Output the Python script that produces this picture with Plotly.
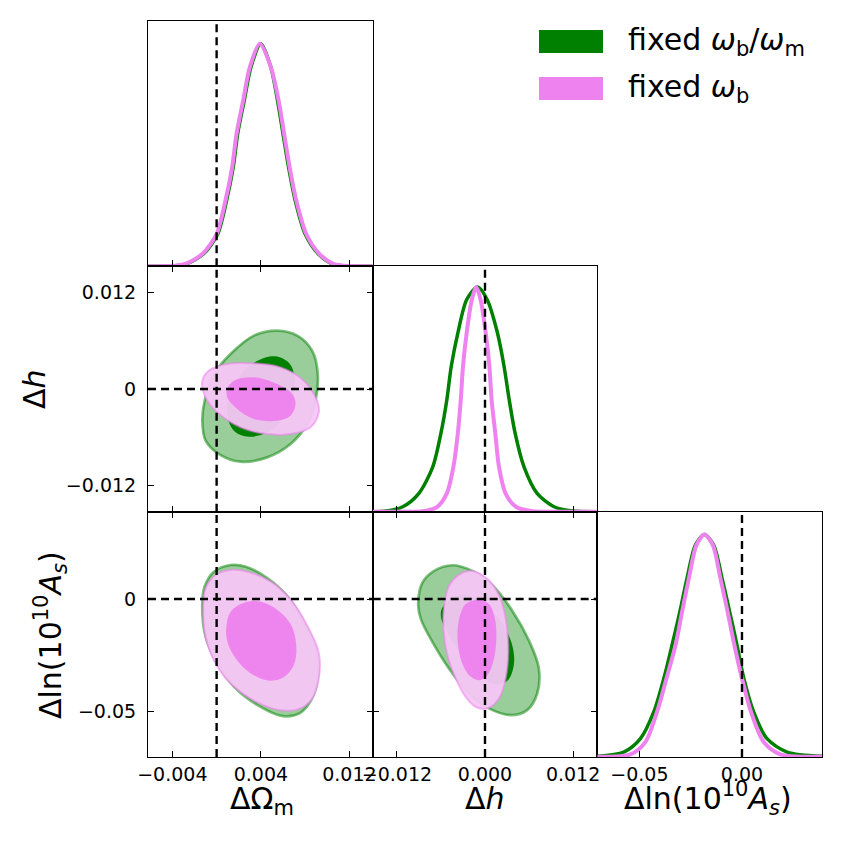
import plotly.graph_objects as go
from plotly.subplots import make_subplots

# colours of the two runs
GREEN = "green"
VIOLET = "violet"
GREEN_LIGHT = "rgba(128,192,128,0.8)"
VIOLET_LIGHT = "rgba(246,198,246,0.95)"
FONT = "DejaVu Sans"

series_labels = ["fixed <i>ω</i><sub>b</sub>/<i>ω</i><sub>m</sub>", "fixed <i>ω</i><sub>b</sub>"]

# fiducial values (dashed lines)
om_true = 0.0
h_true = 0.0
as_true = 0.0

# axis ranges and ticks
om_range = [-0.0062, 0.0141]
h_range = [-0.0153, 0.0153]
as_range = [-0.0705, 0.039]
pdf_range = [0, 1.1]
om_ticks = [-0.004, 0.004, 0.012]
om_ticktext = ["−0.004", "0.004", "0.012"]
h_ticks = [-0.012, 0.0, 0.012]
h_ticktext_x = ["−0.012", "0.000", "0.012"]
h_ticktext_y = ["−0.012", "0", "0.012"]
as_ticks = [-0.05, 0.0]
as_ticktext_x = ["−0.05", "0.00"]
as_ticktext_y = ["−0.05", "0"]

# ---- 1D marginals ----
om_green_x = [-0.0062, -0.0044, -0.0028, -0.0012, 0.0001, 0.0009, 0.0015, 0.0019, 0.0025, 0.0031, 0.0040,
              0.0049, 0.0055, 0.0060, 0.0065, 0.0071, 0.0080, 0.0092, 0.0105, 0.0121, 0.0141]
om_green_y = [0.0, 0.001, 0.010, 0.055, 0.145, 0.295, 0.444, 0.594, 0.744, 0.893, 0.998,
              0.893, 0.744, 0.594, 0.444, 0.295, 0.145, 0.055, 0.010, 0.001, 0.0]
om_pink_x = [-0.0062, -0.0045, -0.0029, -0.0013, 0.0000, 0.0008, 0.0014, 0.0018, 0.0024, 0.0030, 0.0039,
             0.0049, 0.0056, 0.0061, 0.0066, 0.0072, 0.0081, 0.0093, 0.0106, 0.0122, 0.0141]
om_pink_y = [0.0, 0.001, 0.010, 0.055, 0.145, 0.295, 0.444, 0.594, 0.744, 0.893, 0.998,
             0.893, 0.744, 0.594, 0.444, 0.295, 0.145, 0.055, 0.010, 0.001, 0.0]

h_green_x = [-0.0153, -0.0135, -0.0112, -0.0090, -0.0071, -0.0060, -0.0052, -0.0046, -0.0037, -0.0025, -0.0010,
             0.0003, 0.0017, 0.0026, 0.0033, 0.0041, 0.0053, 0.0071, 0.0094, 0.0120, 0.0153]
h_green_y = [0.0, 0.003, 0.022, 0.082, 0.202, 0.352, 0.501, 0.651, 0.801, 0.950, 1.007,
             0.950, 0.801, 0.651, 0.501, 0.352, 0.202, 0.082, 0.022, 0.003, 0.0]
h_pink_x = [-0.0153, -0.0110, -0.0085, -0.0065, -0.0052, -0.0043, -0.0037, -0.0033, -0.0030, -0.0025, -0.0018, -0.0012,
            -0.0006, 0.0001, 0.0006, 0.0009, 0.0014, 0.0019, 0.0028, 0.0042, 0.0065, 0.0090, 0.0153]
h_pink_y = [0.0, 0.0, 0.002, 0.022, 0.082, 0.202, 0.352, 0.501, 0.651, 0.801, 0.950, 1.007,
            0.950, 0.801, 0.651, 0.501, 0.352, 0.202, 0.082, 0.022, 0.002, 0.0, 0.0]

as_green_x = [-0.0705, -0.0576, -0.0495, -0.0430, -0.0381, -0.0341, -0.0303, -0.0268, -0.0227, -0.0183,
              -0.0138, -0.0097, -0.0060, -0.0024, 0.0009, 0.0057, 0.0122, 0.0220, 0.039]
as_green_y = [0.003, 0.022, 0.082, 0.202, 0.352, 0.501, 0.651, 0.801, 0.950, 0.998,
              0.950, 0.801, 0.651, 0.501, 0.352, 0.202, 0.082, 0.022, 0.003]
as_pink_x = [-0.0705, -0.0544, -0.0471, -0.0414, -0.0368, -0.0324, -0.0292, -0.0259, -0.0222, -0.0183,
             -0.0142, -0.0105, -0.0070, -0.0037, 0.0000, 0.0044, 0.0106, 0.0187, 0.039]
as_pink_y = [0.0015, 0.012, 0.067, 0.202, 0.352, 0.501, 0.651, 0.801, 0.950, 0.998,
             0.950, 0.801, 0.651, 0.501, 0.352, 0.202, 0.067, 0.012, 0.0015]

# ---- 2D contours: Omega_m vs h ----
omh_green_out_x = [-0.00129, -0.00108, -0.00024, 0.00126, 0.00337, 0.00547, 0.00728, 0.00863,
                   0.00914, 0.00893, 0.00818, 0.00668, 0.00457, 0.00217, 0.00021, -0.00099]
omh_green_out_y = [-0.00395, -0.00146, 0.00187, 0.00437, 0.00666, 0.00728, 0.00666, 0.00478,
                   0.00187, -0.00146, -0.00437, -0.00686, -0.00853, -0.00907, -0.00811, -0.00645]
omh_green_in_x = [0.00096, 0.00126, 0.00247, 0.00427, 0.00547, 0.00662, 0.00704, 0.00692,
                  0.00608, 0.00457, 0.00292, 0.00156]
omh_green_in_y = [-0.00312, -0.00062, 0.00229, 0.00387, 0.00404, 0.00312, 0.00146, -0.00104,
                  -0.00354, -0.00541, -0.00595, -0.00520]
omh_pink_out_x = [-0.00129, -0.00069, 0.00096, 0.00337, 0.00578, 0.00788, 0.00908, 0.00923,
                  0.00848, 0.00668, 0.00457, 0.00217, 0.00006, -0.00108]
omh_pink_out_y = [0.00104, 0.00229, 0.00312, 0.00320, 0.00270, 0.00104, -0.00146, -0.00291,
                  -0.00478, -0.00562, -0.00562, -0.00478, -0.00291, -0.00083]
omh_pink_in_x = [0.00096, 0.00156, 0.00337, 0.00547, 0.00683, 0.00713, 0.00668, 0.00547,
                 0.00337, 0.00186, 0.00096]
omh_pink_in_y = [0.0, 0.00104, 0.00146, 0.00062, -0.00062, -0.00187, -0.00333, -0.00395,
                 -0.00374, -0.00250, -0.00104]

# ---- 2D contours: Omega_m vs ln(10^10 A_s) ----
omas_green_out_x = [-0.00130, -0.00109, -0.00024, 0.00127, 0.00264, 0.00461, 0.00642, 0.00794, 0.00900,
                    0.00915, 0.00854, 0.00748, 0.00597, 0.00370, 0.00158, 0.00006, -0.00100]
omas_green_out_y = [-0.00342, 0.00551, 0.01220, 0.01518, 0.01443, 0.00923, 0.00104, -0.01086, -0.02277,
                    -0.03467, -0.04509, -0.05104, -0.05223, -0.04732, -0.03913, -0.02872, -0.01681]
omas_green_in_x = [0.00100, 0.00140, 0.00260, 0.00400, 0.00540, 0.00660, 0.00700, 0.00680, 0.00600,
                   0.00470, 0.00310, 0.00180, 0.00110]
omas_green_in_y = [-0.0125, -0.0065, -0.0025, -0.0021, -0.0055, -0.0118, -0.0195, -0.0280, -0.0336,
                   -0.0353, -0.0322, -0.0260, -0.0190]
omas_pink_out_x = [-0.00121, -0.00100, -0.00009, 0.00127, 0.00279, 0.00491, 0.00673, 0.00824, 0.00924,
                   0.00921, 0.00854, 0.00733, 0.00567, 0.00355, 0.00142, -0.00009, -0.00100]
omas_pink_out_y = [-0.00342, 0.00476, 0.01071, 0.01295, 0.01220, 0.00774, -0.00045, -0.01235, -0.02425,
                   -0.03616, -0.04509, -0.04925, -0.04955, -0.04583, -0.03839, -0.02872, -0.01681]
omas_pink_in_x = [0.00088, 0.00127, 0.00248, 0.00400, 0.00551, 0.00673, 0.00718, 0.00703, 0.00612,
                  0.00476, 0.00309, 0.00173, 0.00097]
omas_pink_in_y = [-0.01235, -0.00565, -0.00164, -0.00119, -0.00491, -0.01161, -0.01979, -0.02872, -0.03467,
                  -0.03646, -0.03318, -0.02649, -0.01905]

# ---- 2D contours: h vs ln(10^10 A_s) ----
has_green_out_x = [-0.00910, -0.00851, -0.00693, -0.00444, -0.00172, 0.00100, 0.00371, 0.00598, 0.00734,
                   0.00711, 0.00575, 0.00349, 0.00054, -0.00217, -0.00489, -0.00715, -0.00874]
has_green_out_y = [-0.00222, 0.00740, 0.01257, 0.01509, 0.01257, 0.00621, -0.00518, -0.01849, -0.03106,
                   -0.04215, -0.04955, -0.05177, -0.04881, -0.04215, -0.03106, -0.01923, -0.00887]
has_green_in_x = [-0.00590, -0.00444, -0.00217, 0.00009, 0.00225, 0.00372, 0.00392, 0.00305, 0.00135,
                  -0.00082, -0.00308, -0.00512, -0.00595]
has_green_in_y = [-0.00444, 0.00074, 0.00148, -0.00296, -0.01035, -0.02071, -0.02958, -0.03650, -0.03800,
                  -0.03402, -0.02514, -0.01479, -0.00887]
has_pink_out_x = [-0.00376, -0.00217, -0.00059, 0.00100, 0.00213, 0.00290, 0.00317, 0.00281, 0.00190,
                  0.00032, -0.00127, -0.00263, -0.00398, -0.00512, -0.00566, -0.00557, -0.00489]
has_pink_out_y = [0.01035, 0.01257, 0.01109, 0.00666, 0.0, -0.01035, -0.02366, -0.03550, -0.04437,
                  -0.04881, -0.04807, -0.04363, -0.03550, -0.02514, -0.01331, -0.00296, 0.00592]
has_pink_in_x = [-0.00263, -0.00082, 0.00054, 0.00136, 0.00154, 0.00122, 0.00032, -0.00082, -0.00217,
                 -0.00317, -0.00371, -0.00362, -0.00317]
has_pink_in_y = [-0.00222, -0.00030, -0.00222, -0.00887, -0.01775, -0.02662, -0.03402, -0.03624, -0.03402,
                 -0.02810, -0.01923, -0.01035, -0.00518]

# the page body adds an 8px offset, so the figure is a bit smaller than the window
OFF = 8
W, H = 835, 835
ML, MR, MT, MB = 140, 21, 13, 86

fig = make_subplots(rows=3, cols=3, horizontal_spacing=0, vertical_spacing=0)


def add_region(x, y, row, col, fill, line_color, line_width):
    fig.add_trace(go.Scatter(
        x=x + x[:1], y=y + y[:1], mode="lines", fill="toself", fillcolor=fill,
        line=dict(color=line_color, width=line_width, shape="spline", smoothing=1.0),
        hoverinfo="skip", showlegend=False), row=row, col=col)


def add_pdf(x, y, row, col, color, width):
    fig.add_trace(go.Scatter(
        x=x, y=y, mode="lines", line=dict(color=color, width=width, shape="spline", smoothing=0.8),
        hoverinfo="skip", showlegend=False), row=row, col=col)


# 1D marginals
add_pdf(om_green_x, om_green_y, 1, 1, GREEN, 3.5)
add_pdf(om_pink_x, om_pink_y, 1, 1, VIOLET, 4)
add_pdf(h_green_x, h_green_y, 2, 2, GREEN, 3.5)
add_pdf(h_pink_x, h_pink_y, 2, 2, VIOLET, 4)
add_pdf(as_green_x, as_green_y, 3, 3, GREEN, 3.5)
add_pdf(as_pink_x, as_pink_y, 3, 3, VIOLET, 4)

# 2D contours, green first, violet on top
panels = [
    (2, 1, omh_green_out_x, omh_green_out_y, omh_green_in_x, omh_green_in_y,
     omh_pink_out_x, omh_pink_out_y, omh_pink_in_x, omh_pink_in_y),
    (3, 1, omas_green_out_x, omas_green_out_y, omas_green_in_x, omas_green_in_y,
     omas_pink_out_x, omas_pink_out_y, omas_pink_in_x, omas_pink_in_y),
    (3, 2, has_green_out_x, has_green_out_y, has_green_in_x, has_green_in_y,
     has_pink_out_x, has_pink_out_y, has_pink_in_x, has_pink_in_y),
]
for r, c, gox, goy, gix, giy, pox, poy, pix, piy in panels:
    add_region(gox, goy, r, c, GREEN_LIGHT, "rgba(0,128,0,0.5)", 2.7)
    add_region(gix, giy, r, c, GREEN, GREEN, 0)
    add_region(pox, poy, r, c, VIOLET_LIGHT, "rgba(238,130,238,0.55)", 2)
    add_region(pix, piy, r, c, "rgba(238,130,238,0.95)", "rgba(238,130,238,0.95)", 0)

# dashed fiducial lines
dash = dict(color="black", width=2.4, dash="8px,5px")
for r in (1, 2, 3):
    fig.add_vline(x=om_true, row=r, col=1, line=dash)
for r in (2, 3):
    fig.add_vline(x=h_true, row=r, col=2, line=dash)
fig.add_vline(x=as_true, row=3, col=3, line=dash)
fig.add_hline(y=h_true, row=2, col=1, line=dash)
for c in (1, 2):
    fig.add_hline(y=as_true, row=3, col=c, line=dash)

tickfont = dict(family=FONT, size=19, color="black")
base = dict(showline=True, linecolor="black", linewidth=1, ticks="inside", ticklen=6, tickwidth=1,
            tickcolor="black", showgrid=False, zeroline=False, tickfont=tickfont)


def set_x(row, col, rng, vals, text, labels, mirror):
    fig.update_xaxes(range=rng, tickvals=vals, ticktext=text, showticklabels=labels, mirror=mirror,
                     ticklabelstandoff=0, row=row, col=col, **base)


def set_y(row, col, rng, vals, text, labels, mirror, ticks=True):
    fig.update_yaxes(range=rng, tickvals=vals if ticks else [], ticktext=text if ticks else [],
                     showticklabels=labels, mirror=mirror, ticklabelstandoff=7, row=row, col=col, **base)


set_x(1, 1, om_range, om_ticks, om_ticktext, False, True)
set_y(1, 1, pdf_range, None, None, False, True, ticks=False)
set_x(2, 1, om_range, om_ticks, om_ticktext, False, "ticks")
set_y(2, 1, h_range, h_ticks, h_ticktext_y, True, "ticks")
set_x(2, 2, h_range, h_ticks, h_ticktext_x, False, True)
set_y(2, 2, pdf_range, None, None, False, True, ticks=False)
set_x(3, 1, om_range, om_ticks, om_ticktext, True, "ticks")
set_y(3, 1, as_range, as_ticks, as_ticktext_y, True, "ticks")
set_x(3, 2, h_range, h_ticks, h_ticktext_x, True, "ticks")
set_y(3, 2, as_range, as_ticks, as_ticktext_y, False, "ticks")
set_x(3, 3, as_range, as_ticks, as_ticktext_x, True, True)
set_y(3, 3, pdf_range, None, None, False, True, ticks=False)
for r, c in [(1, 2), (1, 3), (2, 3)]:
    fig.update_xaxes(visible=False, row=r, col=c)
    fig.update_yaxes(visible=False, row=r, col=c)


def px_x(p):
    return (p - OFF - ML) / (W - ML - MR)


def px_y(p):
    return (H - MB - (p - OFF)) / (H - MT - MB)


title_font = dict(family=FONT, size=30, color="black")
annotations = [
    dict(text="ΔΩ<sub>m</sub>", x=px_x(262), y=px_y(800)),
    dict(text="Δ<i>h</i>", x=px_x(485), y=px_y(798)),
    dict(text="Δln(10<sup>10</sup><i>A<sub>s</sub></i>)", x=px_x(708), y=px_y(798)),
    dict(text="Δ<i>h</i>", x=px_x(34), y=px_y(389), textangle=-90),
    dict(text="Δln(10<sup>10</sup><i>A<sub>s</sub></i>)", x=px_x(50), y=px_y(635), textangle=-90),
]
for a in annotations:
    fig.add_annotation(xref="paper", yref="paper", showarrow=False, font=title_font,
                       xanchor="center", yanchor="middle", **a)

# legend drawn by hand: colour boxes plus labels
legend_colors = [GREEN, VIOLET]
legend_rows = [41.5, 88.5]
for label, color, yc in zip(series_labels, legend_colors, legend_rows):
    fig.add_shape(type="rect", xref="paper", yref="paper", x0=px_x(539), x1=px_x(603),
                  y0=px_y(yc - 11.5), y1=px_y(yc + 11.5), fillcolor=color, line=dict(width=0))
    fig.add_annotation(xref="paper", yref="paper", x=px_x(626), y=px_y(yc), text=label, showarrow=False,
                       xanchor="left", yanchor="middle", font=dict(family=FONT, size=30, color="black"))

fig.update_layout(width=W, height=H, margin=dict(l=ML, r=MR, t=MT, b=MB),
                  plot_bgcolor="white", paper_bgcolor="white", showlegend=False)

fig.write_html("out.html")
